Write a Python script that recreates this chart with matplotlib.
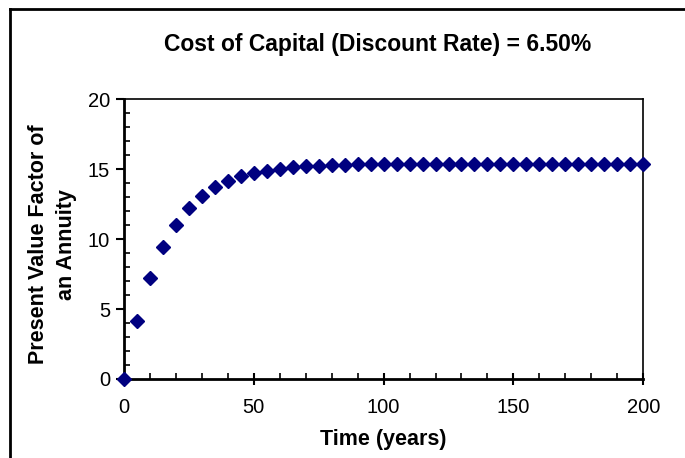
import matplotlib
matplotlib.use("Agg")
import matplotlib.pyplot as plt
from matplotlib.lines import Line2D
from matplotlib.ticker import MultipleLocator

plt.rcParams['font.family'] = ['Liberation Sans', 'DejaVu Sans']

# Data (every 5 years)
years = [0, 5, 10, 15, 20, 25, 30, 35, 40, 45, 50, 55, 60, 65, 70, 75, 80,
         85, 90, 95, 100, 105, 110, 115, 120, 125, 130, 135, 140, 145, 150,
         155, 160, 165, 170, 175, 180, 185, 190, 195, 200]
pv_factor = [0.0, 4.16, 7.19, 9.40, 11.02, 12.20, 13.06, 13.69, 14.15, 14.48,
             14.72, 14.90, 15.03, 15.13, 15.20, 15.25, 15.29, 15.31, 15.33,
             15.35, 15.36, 15.36, 15.37, 15.37, 15.38, 15.38, 15.38, 15.38,
             15.38, 15.38, 15.38, 15.38, 15.38, 15.38, 15.38, 15.38, 15.38,
             15.38, 15.38, 15.38, 15.38]

fig = plt.figure(figsize=(6.85, 4.58), dpi=100)
ax = fig.add_axes([0.181, 0.1725, 0.758, 0.611])

ax.plot(years, pv_factor, linestyle='none', marker='D', markersize=7.5,
        color='#000080', clip_on=False, zorder=5)

ax.set_xlim(0, 200)
ax.set_ylim(0, 20)
ax.xaxis.set_major_locator(MultipleLocator(50))
ax.xaxis.set_minor_locator(MultipleLocator(10))
ax.yaxis.set_major_locator(MultipleLocator(5))
ax.yaxis.set_minor_locator(MultipleLocator(1))

ax.tick_params(axis='x', which='major', direction='inout', length=8, width=1.5,
               labelsize=14.5, pad=10)
ax.tick_params(axis='x', which='minor', direction='in', length=4, width=1.2)
ax.tick_params(axis='y', which='major', direction='out', length=6, width=1.5,
               labelsize=14.5, pad=4)
ax.tick_params(axis='y', which='minor', direction='in', length=4, width=1.2)

for side in ['left', 'bottom']:
    ax.spines[side].set_linewidth(2)
for side in ['top', 'right']:
    ax.spines[side].set_linewidth(1.2)

ax.set_xlabel('Time (years)', fontsize=15.5, fontweight='bold', labelpad=8)
ax.set_ylabel('Present Value Factor of\nan Annuity', fontsize=15.5,
              fontweight='bold', labelpad=8, linespacing=1.45)
ax.yaxis.label.set_y(0.48)
fig.text(0.552, 0.902, 'Cost of Capital (Discount Rate) = 6.50%', ha='center',
         va='center', fontsize=16.5, fontweight='bold')

# outer chart border (left and top edges visible)
fig.add_artist(Line2D([10 / 685, 10 / 685], [0, 1 - 9 / 458],
                      transform=fig.transFigure, color='black', lw=2))
fig.add_artist(Line2D([10 / 685, 1], [1 - 9 / 458, 1 - 9 / 458],
                      transform=fig.transFigure, color='black', lw=2))

fig.savefig('out.png', dpi=100)
